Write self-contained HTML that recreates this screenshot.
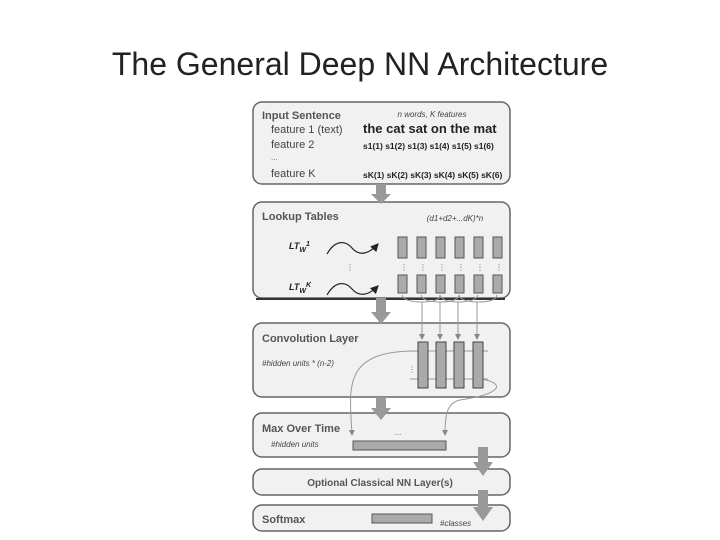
<!DOCTYPE html>
<html><head><meta charset="utf-8"><style>
html,body{margin:0;padding:0;background:#fff;}
svg{display:block;font-family:"Liberation Sans","DejaVu Sans",sans-serif;}
</style></head><body>
<svg width="720" height="540" viewBox="0 0 720 540" xmlns="http://www.w3.org/2000/svg">
<defs>
<marker id="ah" markerWidth="6" markerHeight="6" refX="5" refY="3" orient="auto"><path d="M0,0 L6,3 L0,6 z" fill="#888"/></marker>
<marker id="bk" markerWidth="7" markerHeight="7" refX="6" refY="3.5" orient="auto"><path d="M0,0 L7,3.5 L0,7 z" fill="#222"/></marker>
</defs>
<text x="360" y="75" text-anchor="middle" font-size="32" fill="#222" font-family="Liberation Sans, sans-serif">The General Deep NN Architecture</text>

<g fill="#f1f1f1" stroke="#666" stroke-width="1.5">
<rect x="253" y="102" width="257" height="82" rx="9"/>
<rect x="253" y="202" width="257" height="96" rx="9"/>
<rect x="253" y="323" width="257" height="74" rx="9"/>
<rect x="253" y="413" width="257" height="44" rx="9"/>
<rect x="253" y="469" width="257" height="26" rx="9"/>
<rect x="253" y="505" width="257" height="26" rx="9"/>
</g>
<line x1="256" y1="299" x2="505" y2="299" stroke="#333" stroke-width="2"/>

<g fill="#999">
<rect x="376" y="184" width="10" height="10"/><polygon points="371,194 391,194 381,204"/>
<rect x="376" y="298" width="10" height="14"/><polygon points="371,312 391,312 381,324"/>
<rect x="376" y="397" width="10" height="12"/><polygon points="371,408 391,408 381,420"/>
<rect x="478" y="447" width="10" height="16"/><polygon points="473,462 493,462 483,476"/>
<rect x="478" y="490" width="10" height="18"/><polygon points="473,507 493,507 483,521"/>
</g>

<text x="262" y="119" font-size="11" font-weight="bold" fill="#555">Input Sentence</text>
<text x="271" y="133" font-size="11" fill="#444">feature 1 (text)</text>
<text x="271" y="148" font-size="11" fill="#444">feature 2</text>
<text x="271" y="160" font-size="8" fill="#666">...</text>
<text x="271" y="177" font-size="11" fill="#444">feature K</text>
<text x="432" y="117" font-size="8" font-style="italic" fill="#444" text-anchor="middle">n words, K features</text>
<text x="363" y="133" font-size="13" font-weight="bold" fill="#222">the cat sat on the mat</text>
<text x="363" y="149" font-size="8.5" font-weight="bold" fill="#222">s1(1) s1(2) s1(3) s1(4) s1(5) s1(6)</text>
<text x="363" y="178" font-size="8.5" font-weight="bold" fill="#222">sK(1) sK(2) sK(3) sK(4) sK(5) sK(6)</text>

<text x="262" y="220" font-size="11" font-weight="bold" fill="#555">Lookup Tables</text>
<text x="455" y="221" font-size="8" font-style="italic" fill="#444" text-anchor="middle">(d1+d2+...dK)*n</text>
<text x="289" y="249" font-size="9" font-weight="bold" font-style="italic" fill="#222">LT<tspan font-size="7" dy="3">W</tspan><tspan font-size="7" dy="-6">1</tspan></text>
<text x="289" y="290" font-size="9" font-weight="bold" font-style="italic" fill="#222">LT<tspan font-size="7" dy="3">W</tspan><tspan font-size="7" dy="-6">K</tspan></text>
<path d="M327,254 C335,240 345,240 352,248 C359,256 368,255 378,244" fill="none" stroke="#222" stroke-width="1.2" marker-end="url(#bk)"/>
<path d="M327,295 C335,281 345,281 352,289 C359,297 368,296 378,286" fill="none" stroke="#222" stroke-width="1.2" marker-end="url(#bk)"/>
<text x="346" y="270" font-size="8" fill="#666">⋮</text>
<g fill="#aaa" stroke="#555" stroke-width="1">
<rect x="398" y="237" width="9" height="21"/><rect x="417" y="237" width="9" height="21"/><rect x="436" y="237" width="9" height="21"/><rect x="455" y="237" width="9" height="21"/><rect x="474" y="237" width="9" height="21"/><rect x="493" y="237" width="9" height="21"/>
<rect x="398" y="275" width="9" height="18"/><rect x="417" y="275" width="9" height="18"/><rect x="436" y="275" width="9" height="18"/><rect x="455" y="275" width="9" height="18"/><rect x="474" y="275" width="9" height="18"/><rect x="493" y="275" width="9" height="18"/>
</g>
<g font-size="8" fill="#666"><text x="400" y="270">⋮</text><text x="419" y="270">⋮</text><text x="438" y="270">⋮</text><text x="457" y="270">⋮</text><text x="476" y="270">⋮</text><text x="495" y="270">⋮</text></g>
<g fill="none" stroke="#999" stroke-width="1">
<path d="M402,295 Q404,302 422,302 Q440,302 440,295"/>
<path d="M421,295 Q423,302 440,302 Q458,302 459,295"/>
<path d="M440,295 Q442,302 458,302 Q476,302 478,295"/>
<path d="M459,295 Q461,302 478,302 Q496,302 497,295"/>
<path d="M422,302 L422,339" marker-end="url(#ah)"/>
<path d="M440,302 L440,339" marker-end="url(#ah)"/>
<path d="M458,302 L458,339" marker-end="url(#ah)"/>
<path d="M477,302 L477,339" marker-end="url(#ah)"/>
<line x1="410" y1="351" x2="488" y2="351"/>
<line x1="410" y1="379" x2="488" y2="379"/>
<path d="M418,351 C340,350 350,390 352,435" marker-end="url(#ah)"/>
<path d="M482,379 C510,385 495,395 460,400 C445,403 445,420 445,435" marker-end="url(#ah)"/>
</g>

<text x="262" y="342" font-size="11" font-weight="bold" fill="#555">Convolution Layer</text>
<text x="262" y="366" font-size="8" font-style="italic" fill="#444">#hidden units * (n-2)</text>
<text x="408" y="372" font-size="8" fill="#666">⋮</text>
<g fill="#aaa" stroke="#444" stroke-width="1">
<rect x="418" y="342" width="10" height="46"/><rect x="436" y="342" width="10" height="46"/><rect x="454" y="342" width="10" height="46"/><rect x="473" y="342" width="10" height="46"/>
</g>

<text x="262" y="432" font-size="11" font-weight="bold" fill="#555">Max Over Time</text>
<text x="271" y="447" font-size="8" font-style="italic" fill="#444">#hidden units</text>
<text x="398" y="435" font-size="8" fill="#666" text-anchor="middle">...</text>
<rect x="353" y="441" width="93" height="9" fill="#aaa" stroke="#555"/>

<text x="380" y="486" font-size="10" font-weight="bold" fill="#555" text-anchor="middle">Optional Classical NN Layer(s)</text>

<text x="262" y="523" font-size="11" font-weight="bold" fill="#555">Softmax</text>
<rect x="372" y="514" width="60" height="9" fill="#aaa" stroke="#555"/>
<text x="440" y="526" font-size="8" font-style="italic" fill="#444">#classes</text>
</svg>
</body></html>
